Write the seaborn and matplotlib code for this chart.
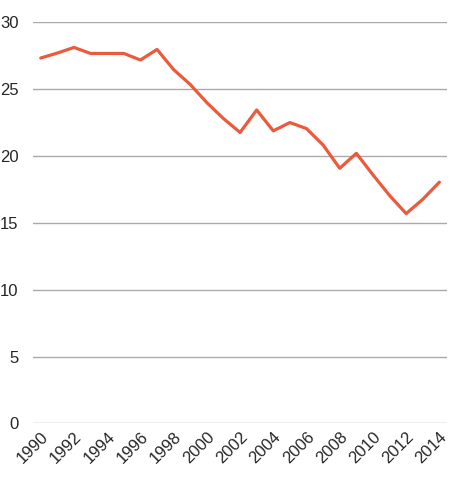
import matplotlib
matplotlib.use("Agg")
import matplotlib.pyplot as plt
import seaborn as sns
import pandas as pd

years = list(range(1990, 2015))
values = [27.33, 27.7, 28.12, 27.67, 27.67, 27.67, 27.18, 27.97, 26.46, 25.35,
          23.99, 22.8, 21.76, 23.44, 21.88, 22.5, 22.05, 20.82, 19.08, 20.2,
          18.59, 17.05, 15.69, 16.76, 18.04]
tick_years = years[::2]

df = pd.DataFrame({"year": years, "value": values})

sns.set_style("white")
plt.rcParams['font.family'] = ['Liberation Sans', 'DejaVu Sans']

fig = plt.figure(figsize=(4.5, 4.9), dpi=100)
ax = fig.add_axes([0.074, 0.136, 0.919, 0.8185])

sns.lineplot(data=df, x="year", y="value", ax=ax, color="#ec5a3c", linewidth=2.3)

ax.set_xlim(1989.55, 2014.45)
ax.set_ylim(0, 30)
ax.set_yticks([0, 5, 10, 15, 20, 25, 30])
ax.set_xticks(tick_years)
ax.set_xticklabels([str(y) for y in tick_years], rotation=45, ha="right",
                   rotation_mode="anchor")
ax.yaxis.grid(True, color="#aaaaaa", linewidth=1)
ax.set_axisbelow(True)
for s in ax.spines.values():
    s.set_visible(False)
ax.tick_params(axis="y", length=0, pad=10.5, labelsize=12)
ax.tick_params(axis="x", length=0, pad=4, labelsize=12)
ax.set_xlabel("")
ax.set_ylabel("")

fig.savefig("out.png", dpi=100)
